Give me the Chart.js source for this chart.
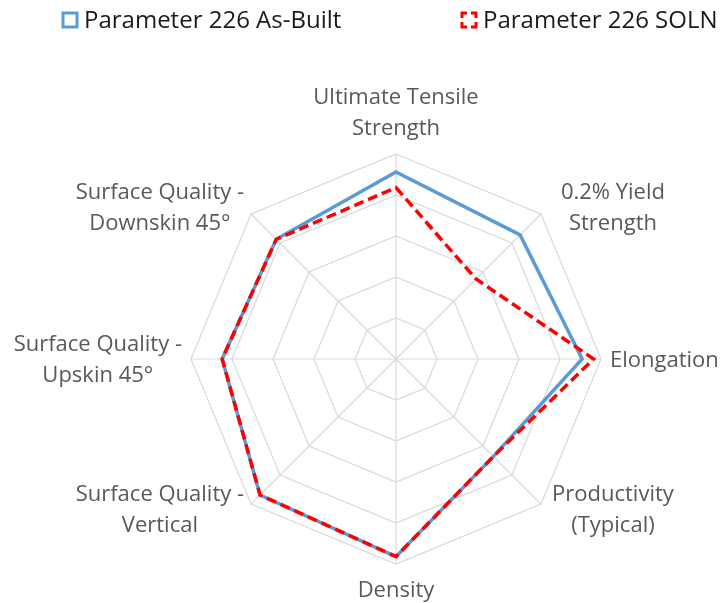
<!DOCTYPE html>
<html><head><meta charset="utf-8">
<script src="https://cdn.jsdelivr.net/npm/chart.js@4.4.0/dist/chart.umd.min.js"></script>
<style>html,body{margin:0;padding:0;background:#fff;}#wrap{width:722px;height:603px;}</style>
</head><body>
<div id="wrap"><canvas id="c" width="722" height="603"></canvas></div>
<script>
const categories = [
  ['Ultimate Tensile', 'Strength'],
  ['0.2% Yield', 'Strength'],
  ['Elongation'],
  ['Productivity', '(Typical)'],
  ['Density'],
  ['Surface Quality -', 'Vertical'],
  ['Surface Quality -', 'Upskin 45°'],
  ['Surface Quality -', 'Downskin 45°']
];
const seriesNames = ['Parameter 226 As-Built', 'Parameter 226 SOLN'];
const asBuilt = [4.56, 4.28, 4.54, 3.36, 4.82, 4.69, 4.24, 4.13];
const soln    = [4.18, 2.76, 4.82, 3.36, 4.82, 4.69, 4.24, 4.13];
const scaleMin = 0, scaleMax = 5, scaleStep = 1;

const BLUE = '#5B9BD5', RED = '#FF0000';

const labelPlugin = {
  id: 'excelLabels',
  afterDraw(chart) {
    const s = chart.scales.r, ctx = chart.ctx;
    ctx.save();
    ctx.font = '22px "Open Sans"';
    ctx.fillStyle = '#595959';
    ctx.textBaseline = 'middle';
    ctx.textAlign = 'center';
    const lh = 31, n8 = categories.length;
    categories.forEach((lines, i) => {
      const p = s.getPointPositionForValue(i, s.max);
      const ang = i * 2 * Math.PI / n8;
      const dx = Math.sin(ang), dy = -Math.cos(ang);
      const tw = Math.max(...lines.map(l => ctx.measureText(l).width));
      const n = lines.length;
      let cx, cy;
      if (Math.abs(dx) < 0.01) {
        cx = p.x;
        cy = dy < 0 ? p.y - 25 - (n - 1) * lh / 2 : p.y + 27 + (n - 1) * lh / 2;
      } else {
        const horiz = Math.abs(dy) < 0.01;
        const bw = horiz ? tw : Math.max(tw, 130);
        const gap = horiz ? 9 : 7;
        cx = dx > 0 ? p.x + gap + bw / 2 : p.x - gap - bw / 2;
        cy = p.y + (horiz ? 1.5 : (dy < 0 ? -6 : 6));
      }
      lines.forEach((l, k) => ctx.fillText(l, cx, cy + (k - (n - 1) / 2) * lh));
    });
    ctx.restore();
  }
};

const legendPlugin = {
  id: 'excelLegend',
  afterDraw(chart) {
    const ctx = chart.ctx;
    ctx.save();
    ctx.font = '24px "Open Sans"';
    ctx.fillStyle = '#1a1a1a';
    ctx.textBaseline = 'middle';
    ctx.textAlign = 'left';
    const y = 20, bs = 14;
    // item 1: solid blue box
    let x = 63;
    ctx.strokeStyle = BLUE; ctx.lineWidth = 3;
    ctx.strokeRect(x, y - bs / 2, bs, bs);
    ctx.fillText(seriesNames[0], x + bs + 7, y + 1);
    // item 2: dashed red box (corner brackets)
    x = 462;
    ctx.strokeStyle = RED; ctx.lineWidth = 3;
    const t = y - bs / 2, b = y + bs / 2, l = x, r = x + bs, seg = 5;
    ctx.beginPath();
    ctx.moveTo(l, t + seg); ctx.lineTo(l, t); ctx.lineTo(l + seg, t);
    ctx.moveTo(r - seg, t); ctx.lineTo(r, t); ctx.lineTo(r, t + seg);
    ctx.moveTo(r, b - seg); ctx.lineTo(r, b); ctx.lineTo(r - seg, b);
    ctx.moveTo(l + seg, b); ctx.lineTo(l, b); ctx.lineTo(l, b - seg);
    ctx.stroke();
    ctx.fillText(seriesNames[1], x + bs + 7, y + 1);
    ctx.restore();
  }
};

new Chart(document.getElementById('c'), {
  type: 'radar',
  data: {
    labels: categories,
    datasets: [
      { label: seriesNames[0], data: asBuilt, borderColor: BLUE, backgroundColor: 'transparent',
        borderWidth: 3.5, fill: false, pointRadius: 0, order: 1 },
      { label: seriesNames[1], data: soln, borderColor: RED, backgroundColor: 'transparent',
        borderWidth: 3.5, borderDash: [10, 5], fill: false, pointRadius: 0, order: 0 }
    ]
  },
  options: {
    responsive: false,
    animation: false,
    devicePixelRatio: 1,
    layout: { padding: { left: 191, right: 121, top: 154, bottom: 39 } },
    plugins: { legend: { display: false }, tooltip: { enabled: false } },
    elements: { line: { tension: 0, borderJoinStyle: 'miter' } },
    scales: {
      r: {
        min: scaleMin, max: scaleMax,
        ticks: { display: false, stepSize: scaleStep },
        grid: { color: '#D9D9D9', lineWidth: 1.2 },
        angleLines: { color: '#D9D9D9', lineWidth: 1.2 },
        pointLabels: { display: false }
      }
    }
  },
  plugins: [labelPlugin, legendPlugin]
});
</script>
</body></html>
